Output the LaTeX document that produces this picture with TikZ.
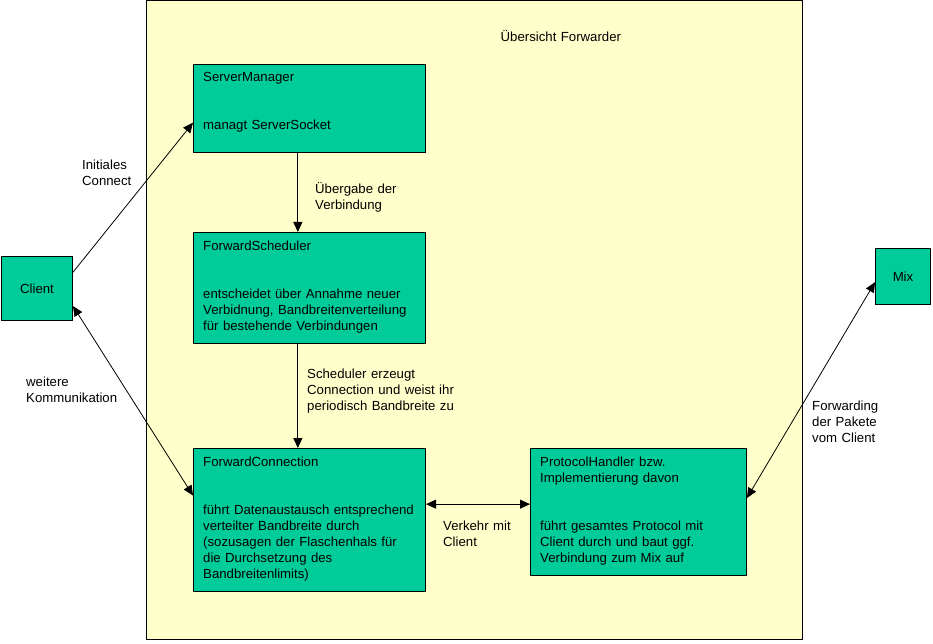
\documentclass[tikz,border=0pt]{standalone}
\usepackage{fontspec}
\setmainfont{Liberation Sans}
\usetikzlibrary{arrows.meta}
\usetikzlibrary{positioning, calc}

\definecolor{boxgreen}{HTML}{00CC99}
\definecolor{areayellow}{HTML}{FFFFCC}

\begin{document}
\begin{tikzpicture}[
    x=1pt, y=-1pt,
    area/.style={draw, fill=areayellow, line width=1pt, anchor=north west, inner sep=0pt},
    block/.style={draw, fill=boxgreen, line width=1pt, anchor=north west, inner sep=0pt, font=\fontsize{13.2}{16}\selectfont},
    txt/.style={anchor=base west, align=left, text width=230pt, inner sep=0pt, font=\fontsize{13.2}{16}\selectfont},
    arr/.style={-{Triangle[length=10pt, width=9pt]}, line width=0.8pt},
    darr/.style={{Triangle[length=10pt, width=9pt]}-{Triangle[length=10pt, width=9pt]}, line width=0.8pt}
]
    \useasboundingbox (0,0) rectangle (933,644);

    \draw (145.5,0.5) node[area, minimum width=656.5, minimum height=638.5] (fwd) {};
    \draw (fwd.north west) ++(355,41) node[txt] (title) {Übersicht Forwarder};

    \draw (1,256) node[block, minimum width=71, minimum height=64] (client) {Client};
    \draw (875,248) node[block, minimum width=55, minimum height=56] (mix) {Mix};

    \draw (193,64) node[block, minimum width=232, minimum height=88] (sm) {};
    \draw (sm.north west) ++(10,18) node[txt] (smtext) {ServerManager\\[32pt]managt ServerSocket};

    \draw (193,232) node[block, minimum width=232, minimum height=111] (fs) {};
    \draw (fs.north west) ++(10,18) node[txt] (fstext) {ForwardScheduler\\[32pt]entscheidet über Annahme neuer\\Verbidnung, Bandbreitenverteilung\\für bestehende Verbindungen};

    \draw (193,448) node[block, minimum width=232, minimum height=143] (fc) {};
    \draw (fc.north west) ++(10,18) node[txt] (fctext) {ForwardConnection\\[32pt]führt Datenaustausch entsprechend\\verteilter Bandbreite durch\\(sozusagen der Flaschenhals für\\die Durchsetzung des\\Bandbreitenlimits)};

    \draw (530,448) node[block, minimum width=216, minimum height=127] (ph) {};
    \draw (ph.north west) ++(10,18) node[txt] (phtext) {ProtocolHandler bzw.\\Implementierung davon\\[32pt]führt gesamtes Protocol mit\\Client durch und baut ggf.\\Verbindung zum Mix auf};

    % connectors
    \draw[arr] ($(client.north east)!.25!(client.south east)$) -- ($(sm.north west)!.66!(sm.south west)$);
    \draw ($(sm.south west)!.45!(sm.south east)$) coordinate (smdown);
    \draw[arr] (smdown) -- (fs.north -| smdown);
    \draw ($(fs.south west)!.45!(fs.south east)$) coordinate (fsdown);
    \draw[arr] (fsdown) -- (fc.north -| fsdown);
    \draw[darr] ($(client.north east)!.77!(client.south east)$) -- ($(fc.north west)!.33!(fc.south west)$);
    \draw ($(fc.north east)!.39!(fc.south east)$) coordinate (fcright);
    \draw[darr] (fcright) -- (ph.west |- fcright);
    \draw[darr] ($(mix.north west)!.6!(mix.south west)$) -- ($(ph.north east)!.39!(ph.south east)$);

    % labels
    \draw (82,170) node[txt] (lconnect) {Initiales\\Connect};
    \draw (315,194) node[txt] (luebergabe) {Übergabe der\\Verbindung};
    \draw (307,378) node[txt] (lscheduler) {Scheduler erzeugt\\Connection und weist ihr\\periodisch Bandbreite zu};
    \draw (26,386) node[txt] (lkomm) {weitere\\Kommunikation};
    \draw (443,530) node[txt] (lverkehr) {Verkehr mit\\Client};
    \draw (812,410) node[txt] (lforward) {Forwarding\\der Pakete\\vom Client};
\end{tikzpicture}
\end{document}
